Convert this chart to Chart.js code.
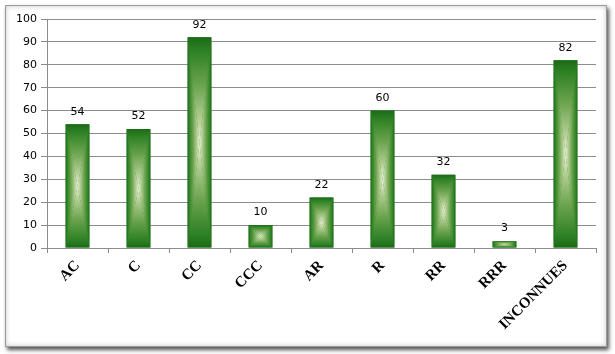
<!DOCTYPE html>
<html>
<head>
<meta charset="utf-8">
<script src="https://cdn.jsdelivr.net/npm/chart.js"></script>
<style>
  html, body { margin: 0; padding: 0; background: #fff; }
  #frame {
    position: absolute; left: 5px; top: 5px; width: 600px; height: 340px;
    border: 1px solid #9a9a9a; background: #fff;
    box-shadow: 2px 3px 4px #555, inset 0 0 5px #c8c8c8;
  }
  #wrap { position: absolute; left: 0; top: 0; width: 615px; height: 354px; }
</style>
</head>
<body>
<div id="frame"></div>
<div id="wrap"><canvas id="chart" width="615" height="354"></canvas></div>
<script>
// categories and values
const categories = ["AC", "C", "CC", "CCC", "AR", "R", "RR", "RRR", "INCONNUES"];
const counts = [54, 52, 92, 10, 22, 60, 32, 3, 82];
const yTicks = [0, 10, 20, 30, 40, 50, 60, 70, 80, 90, 100];

// rectangular "from centre" gradient, drawn on each bar the library laid out
const boxGradient = {
    id: "boxGradient",
    afterDatasetsDraw(chart) {
        const ctx = chart.ctx;
        const meta = chart.getDatasetMeta(0);
        meta.data.forEach(bar => {
            const left = bar.x - bar.width / 2, right = bar.x + bar.width / 2;
            const top = Math.min(bar.y, bar.base), bottom = Math.max(bar.y, bar.base);
            const cx = (left + right) / 2, cy = (top + bottom) / 2;
            const stops = g => {
                g.addColorStop(0, "#1b6a16");
                g.addColorStop(0.12, "#2d8024");
                g.addColorStop(0.45, "#6aa34e");
                g.addColorStop(0.8, "#b6d096");
                g.addColorStop(1, "#f0f3df");
                return g;
            };
            const tri = (pts, g) => {
                ctx.beginPath();
                ctx.moveTo(pts[0][0], pts[0][1]);
                ctx.lineTo(pts[1][0], pts[1][1]);
                ctx.lineTo(cx, cy);
                ctx.closePath();
                ctx.fillStyle = stops(g);
                ctx.fill();
            };
            ctx.save();
            tri([[left, top], [left, bottom]], ctx.createLinearGradient(left, 0, cx, 0));
            tri([[right, top], [right, bottom]], ctx.createLinearGradient(right, 0, cx, 0));
            tri([[left, top], [right, top]], ctx.createLinearGradient(0, top, 0, cy));
            tri([[left, bottom], [right, bottom]], ctx.createLinearGradient(0, bottom, 0, cy));
            ctx.restore();
        });
    }
};

// value labels above the bars
const valueLabels = {
    id: "valueLabels",
    afterDatasetsDraw(chart) {
        const ctx = chart.ctx;
        const meta = chart.getDatasetMeta(0);
        ctx.save();
        ctx.font = "11px 'DejaVu Sans'";
        ctx.fillStyle = "#000";
        ctx.textAlign = "center";
        ctx.textBaseline = "middle";
        meta.data.forEach((bar, i) => {
            ctx.fillText(String(counts[i]), bar.x, bar.y - 12.5);
        });
        ctx.restore();
    }
};

new Chart(document.getElementById("chart"), {
    type: "bar",
    data: {
        labels: categories,
        datasets: [{
            data: counts,
            backgroundColor: "#2f8226",
            borderWidth: 0,
            barPercentage: 0.39,
            categoryPercentage: 1
        }]
    },
    options: {
        responsive: false,
        animation: false,
        layout: { padding: { left: 0, top: 19, right: 19, bottom: 0 } },
        plugins: { legend: { display: false }, tooltip: { enabled: false } },
        scales: {
            x: {
                afterFit: s => { s.height = 106; },
                grid: { drawOnChartArea: false, offset: true, color: "#8c8c8c", tickLength: 5 },
                border: { color: "#8c8c8c" },
                ticks: {
                    color: "#000",
                    font: { family: "'Liberation Serif'", size: 15, weight: "bold" },
                    minRotation: 45, maxRotation: 45, padding: 4, autoSkip: false
                }
            },
            y: {
                min: 0, max: 100,
                afterFit: s => { s.width = 47; },
                afterBuildTicks: s => { s.ticks = yTicks.map(v => ({ value: v })); },
                grid: { color: "#8c8c8c", tickLength: 6 },
                border: { color: "#8c8c8c" },
                ticks: {
                    color: "#000",
                    font: { family: "'DejaVu Sans'", size: 11 },
                    padding: 4
                }
            }
        }
    },
    plugins: [boxGradient, valueLabels]
});
</script>
</body>
</html>
